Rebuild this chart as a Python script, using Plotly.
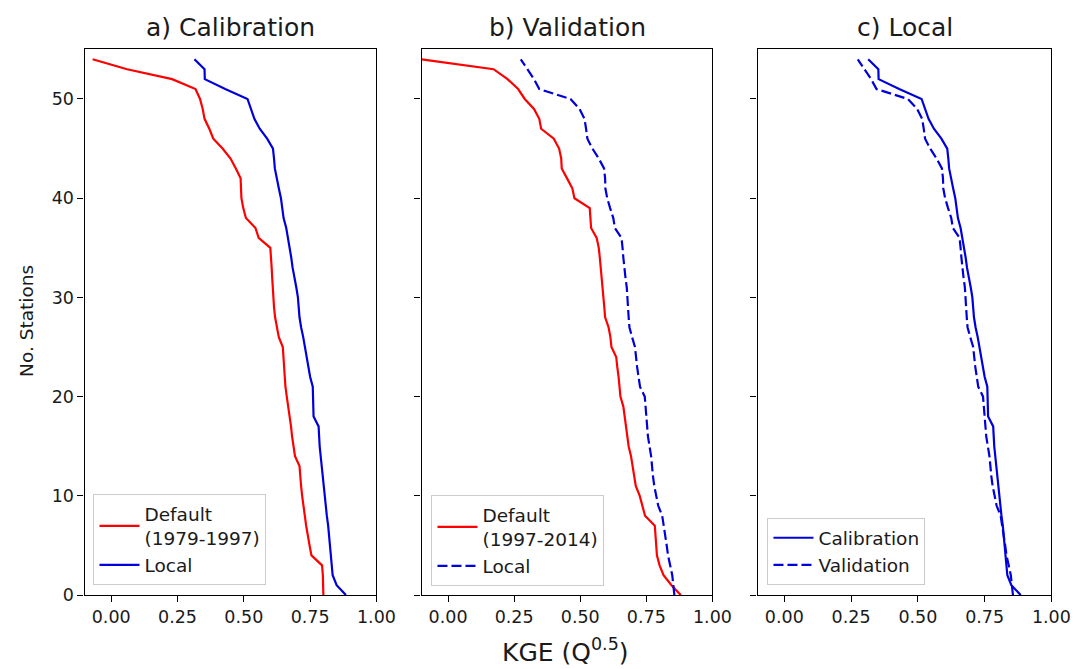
import plotly.graph_objects as go

stations = list(range(55))

cal_default = [0.80, 0.80, 0.798, 0.795, 0.755, 0.748, 0.741, 0.735, 0.73, 0.724,
               0.72, 0.716, 0.712, 0.71, 0.693, 0.687, 0.682, 0.678, 0.672, 0.667,
               0.662, 0.657, 0.654, 0.651, 0.649, 0.647, 0.632, 0.625, 0.618, 0.614,
               0.611, 0.609, 0.607, 0.605, 0.603, 0.600, 0.556, 0.544, 0.508, 0.498,
               0.491, 0.490, 0.488, 0.47, 0.45, 0.42, 0.385, 0.37, 0.352, 0.345,
               0.335, 0.318, 0.23, 0.06, -0.07]

cal_local = [0.885, 0.85, 0.835, 0.832, 0.828, 0.826, 0.822, 0.818, 0.813, 0.809,
             0.805, 0.80, 0.796, 0.793, 0.789, 0.786, 0.784, 0.782, 0.763, 0.762,
             0.761, 0.76, 0.75, 0.744, 0.736, 0.73, 0.724, 0.716, 0.71, 0.707,
             0.704, 0.698, 0.69, 0.684, 0.679, 0.673, 0.667, 0.66, 0.65, 0.645,
             0.64, 0.632, 0.625, 0.617, 0.614, 0.61, 0.588, 0.56, 0.54, 0.527,
             0.514, 0.43, 0.353, 0.352, 0.314]

val_default = [0.88, 0.845, 0.815, 0.80, 0.79, 0.788, 0.786, 0.782, 0.745, 0.735,
               0.725, 0.71, 0.704, 0.698, 0.692, 0.683, 0.678, 0.673, 0.668, 0.663,
               0.652, 0.649, 0.645, 0.64, 0.636, 0.618, 0.614, 0.607, 0.594, 0.591,
               0.588, 0.585, 0.581, 0.577, 0.574, 0.57, 0.562, 0.541, 0.538, 0.536,
               0.478, 0.47, 0.45, 0.43, 0.428, 0.42, 0.40, 0.352, 0.345, 0.325,
               0.29, 0.265, 0.225, 0.172, -0.10]

val_local = [0.856, 0.852, 0.848, 0.84, 0.832, 0.827, 0.822, 0.817, 0.81, 0.795,
             0.787, 0.78, 0.775, 0.772, 0.768, 0.762, 0.756, 0.753, 0.75, 0.747,
             0.744, 0.726, 0.72, 0.715, 0.711, 0.707, 0.696, 0.686, 0.683, 0.681,
             0.68, 0.676, 0.671, 0.666, 0.663, 0.66, 0.656, 0.631, 0.625, 0.613,
             0.602, 0.595, 0.594, 0.59, 0.57, 0.546, 0.527, 0.522, 0.516, 0.497,
             0.463, 0.345, 0.325, 0.30, 0.275]

titles = ["a) Calibration", "b) Validation", "c) Local"]
x_ticks = [0.0, 0.25, 0.5, 0.75, 1.0]
y_ticks = [0, 10, 20, 30, 40, 50]

RED = "#ff0000"
BLUE = "#0000dd"
FONT = "DejaVu Sans"
TXT = "#1a1a1a"
W, H = 1085, 669

# panel pixel boxes
px_left = [78, 421, 763]
px_right = [375, 717, 1062]
px_top, px_bottom = 42, 596

fig = go.Figure()

panels = [
    [(cal_default, "Default<br>(1979-1997)", RED, "solid"),
     (cal_local, "Local", BLUE, "solid")],
    [(val_default, "Default<br>(1997-2014)", RED, "solid"),
     (val_local, "Local", BLUE, "10px,4px")],
    [(cal_local, "Calibration", BLUE, "solid"),
     (val_local, "Validation", BLUE, "10px,4px")],
]
legend_names = ["legend", "legend2", "legend3"]

for i, series in enumerate(panels):
    xa = "x" if i == 0 else f"x{i+1}"
    ya = "y" if i == 0 else f"y{i+1}"
    for vals, name, col, dash in series:
        fig.add_trace(go.Scatter(
            x=vals, y=stations, mode="lines", name=name,
            line=dict(color=col, width=2.2, dash=dash),
            xaxis=xa, yaxis=ya, legend=legend_names[i],
        ))

layout = dict(
    width=W, height=H,
    margin=dict(l=0, r=0, t=0, b=0),
    plot_bgcolor="white", paper_bgcolor="white",
    font=dict(family=FONT, size=17, color=TXT),
)

for i in range(3):
    sfx = "" if i == 0 else str(i + 1)
    layout["xaxis" + sfx] = dict(
        domain=[px_left[i] / W, px_right[i] / W],
        range=[-0.1, 1.0], tickvals=x_ticks, tickformat=".2f",
        showline=True, linecolor="black", linewidth=1.3, mirror=True,
        ticks="outside", ticklen=6, tickcolor="black", showgrid=False,
        zeroline=False, anchor="y" + sfx,
        tickfont=dict(size=17.5, family=FONT, color=TXT),
    )
    layout["yaxis" + sfx] = dict(
        domain=[1 - px_bottom / H, 1 - px_top / H],
        range=[0, 55], tickvals=y_ticks,
        showticklabels=(i == 0),
        showline=True, linecolor="black", linewidth=1.3, mirror=True,
        ticks="outside", ticklen=6, tickcolor="black", showgrid=False,
        zeroline=False, anchor="x" + sfx,
        tickfont=dict(size=17.5, family=FONT, color=TXT),
    )

leg_pos = [(87, 586), (431, 587), (773, 586)]
for i, ln in enumerate(legend_names):
    layout[ln] = dict(
        x=leg_pos[i][0] / W, y=1 - leg_pos[i][1] / H,
        xanchor="left", yanchor="bottom",
        bgcolor="white", bordercolor="#cccccc", borderwidth=1,
        font=dict(size=18.5, family=FONT, color=TXT),
        tracegroupgap=2, itemwidth=40,
    )

fig.update_layout(**layout)

annotations = []
for i, t in enumerate(titles):
    annotations.append(dict(
        text=t, x=(px_left[i] + px_right[i]) / 2 / W, y=1 - 20 / H,
        xref="paper", yref="paper", showarrow=False,
        xanchor="center", yanchor="middle",
        font=dict(size=25, family=FONT, color=TXT),
    ))
annotations.append(dict(
    text="KGE (Q<sup>0.5</sup>)", x=567 / W, y=1 - 652 / H,
    xref="paper", yref="paper", showarrow=False,
    xanchor="center", yanchor="middle",
    font=dict(size=25, family=FONT, color=TXT),
))
annotations.append(dict(
    text="No. Stations", x=19 / W, y=1 - 318 / H,
    xref="paper", yref="paper", showarrow=False, textangle=-90,
    xanchor="center", yanchor="middle",
    font=dict(size=18.5, family=FONT, color=TXT),
))
fig.update_layout(annotations=annotations)

fig.write_html("out.html")
